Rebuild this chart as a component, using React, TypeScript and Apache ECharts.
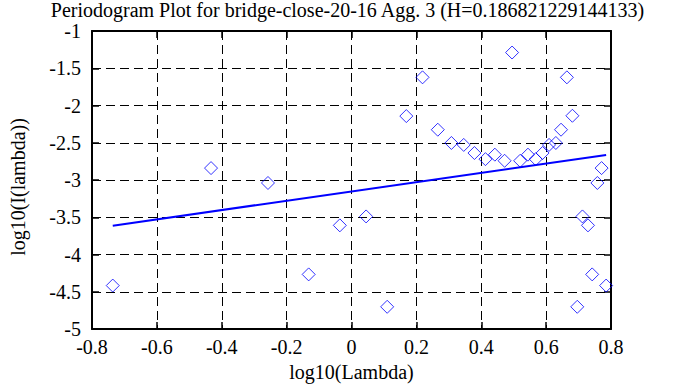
import React, { useEffect, useRef } from "react";
import * as echarts from "echarts";

const titleText = "Periodogram Plot for bridge-close-20-16 Agg. 3 (H=0.186821229144133)";
const xName = "log10(Lambda)";
const yName = "log10(I(lambda))";

const logLambda = [
  -0.736, -0.433, -0.2575, -0.132, -0.036, 0.045, 0.11, 0.169, 0.219, 0.266,
  0.308, 0.346, 0.379, 0.413, 0.442, 0.472, 0.495, 0.52, 0.544, 0.568,
  0.589, 0.609, 0.63, 0.646, 0.664, 0.681, 0.696, 0.712, 0.729, 0.742,
  0.758, 0.771, 0.785,
];
const logI = [
  -4.417, -2.84, -3.04, -4.267, -3.609, -3.489, -4.702, -2.142, -1.622, -2.325,
  -2.503, -2.529, -2.638, -2.72, -2.66, -2.742, -1.289, -2.742, -2.66, -2.72,
  -2.638, -2.529, -2.503, -2.325, -1.622, -2.138, -4.702, -3.489, -3.609, -4.267,
  -3.04, -2.84, -4.417,
];
const fitX = [-0.736, 0.785];
const fitY = [-3.613, -2.663];

const FONT = "'Liberation Serif', 'Times New Roman', 'DejaVu Serif', serif";

export default function App() {
  const ref = useRef<HTMLDivElement>(null);
  useEffect(() => {
    document.body.style.margin = "0";
    if (!ref.current) return;
    const chart = echarts.init(ref.current, null, { renderer: "svg" });
    const axisCommon = {
      axisLine: { show: true, onZero: false, lineStyle: { color: "#000", width: 2 } },
      axisTick: { show: true, inside: true, length: 7, lineStyle: { color: "#000", width: 1.5 } },
    };
    chart.setOption({
      animation: false,
      backgroundColor: "#fff",
      title: {
        text: titleText,
        left: "center",
        top: 0,
        padding: 0,
        textStyle: { fontFamily: FONT, fontSize: 20, fontWeight: "normal", color: "#000", lineHeight: 20 },
      },
      grid: { left: 84, right: 84, top: 31, bottom: 56, containLabel: false },
      xAxis: [
        {
          type: "value",
          min: -0.8,
          max: 0.8,
          interval: 0.2,
          position: "bottom",
          name: xName,
          nameLocation: "middle",
          nameGap: 33,
          nameTextStyle: { fontFamily: FONT, fontSize: 20, color: "#000" },
          ...axisCommon,
          axisLabel: { fontFamily: FONT, fontSize: 20, color: "#000", margin: 8 },
          splitLine: { show: true, lineStyle: { color: "#000", width: 1, type: [9, 5] } },
        },
        {
          type: "value",
          min: -0.8,
          max: 0.8,
          interval: 0.2,
          position: "top",
          ...axisCommon,
          axisLabel: { show: false },
          splitLine: { show: false },
        },
      ],
      yAxis: [
        {
          type: "value",
          min: -5,
          max: -1,
          interval: 0.5,
          position: "left",
          name: yName,
          nameLocation: "middle",
          nameGap: 64,
          nameTextStyle: { fontFamily: FONT, fontSize: 20, color: "#000", padding: [0, 14, 0, 0] },
          ...axisCommon,
          axisLabel: { fontFamily: FONT, fontSize: 20, color: "#000", margin: 11 },
          splitLine: { show: true, lineStyle: { color: "#000", width: 1, type: [9, 5] } },
        },
        {
          type: "value",
          min: -5,
          max: -1,
          interval: 0.5,
          position: "right",
          ...axisCommon,
          axisLabel: { show: false },
          splitLine: { show: false },
        },
      ],
      series: [
        {
          type: "scatter",
          xAxisIndex: 0,
          yAxisIndex: 0,
          symbol: "diamond",
          symbolSize: 13,
          itemStyle: { color: "rgba(0,0,0,0)", borderColor: "#0000ff", borderWidth: 1 },
          data: logLambda.map((x, i) => [x, logI[i]]),
        },
        {
          type: "line",
          xAxisIndex: 0,
          yAxisIndex: 0,
          symbol: "none",
          lineStyle: { color: "#0000ff", width: 2 },
          data: fitX.map((x, i) => [x, fitY[i]]),
        },
      ],
    });
    return () => chart.dispose();
  }, []);
  return <div ref={ref} style={{ width: 695, height: 387 }} />;
}
